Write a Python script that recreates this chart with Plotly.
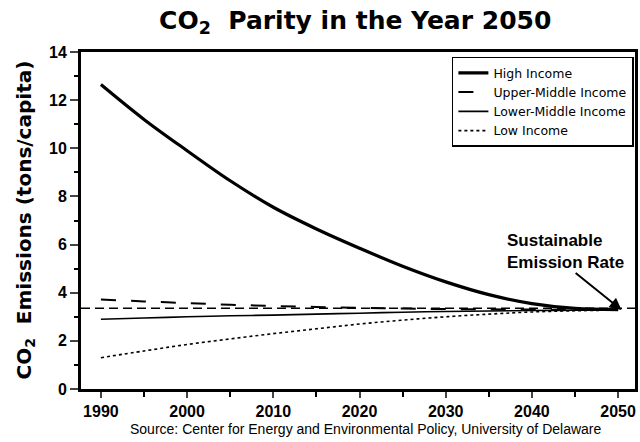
import plotly.graph_objects as go

years = [1990, 1995, 2000, 2005, 2010, 2015, 2020, 2025, 2030, 2035, 2040, 2045, 2050]
high_income = [12.65, 11.2, 9.9, 8.65, 7.55, 6.65, 5.85, 5.1, 4.45, 3.92, 3.55, 3.35, 3.3]
upper_middle = [3.72, 3.64, 3.57, 3.5, 3.45, 3.41, 3.37, 3.34, 3.32, 3.31, 3.3, 3.29, 3.28]
lower_middle = [2.9, 2.95, 3.0, 3.04, 3.07, 3.11, 3.15, 3.19, 3.22, 3.24, 3.26, 3.27, 3.28]
low_income = [1.3, 1.58, 1.85, 2.08, 2.3, 2.5, 2.7, 2.86, 3.0, 3.11, 3.2, 3.25, 3.28]
sustainable_rate = 3.35

series_names = ["High Income", "Upper-Middle Income", "Lower-Middle Income", "Low Income"]
x_ticks = [1990, 2000, 2010, 2020, 2030, 2040, 2050]
y_ticks = [0, 2, 4, 6, 8, 10, 12, 14]

FONT = "Liberation Sans, Arial, sans-serif"
WIDE = "DejaVu Sans, sans-serif"

fig = go.Figure()
fig.add_trace(go.Scatter(x=years, y=high_income, mode="lines", name=series_names[0],
                         line=dict(color="black", width=3.2, shape="spline")))
fig.add_trace(go.Scatter(x=years, y=upper_middle, mode="lines", name=series_names[1],
                         line=dict(color="black", width=2, dash="longdash", shape="spline")))
fig.add_trace(go.Scatter(x=years, y=lower_middle, mode="lines", name=series_names[2],
                         line=dict(color="black", width=1.6, shape="spline")))
fig.add_trace(go.Scatter(x=years, y=low_income, mode="lines", name=series_names[3],
                         line=dict(color="black", width=1.6, dash="dot", shape="spline")))

fig.add_shape(type="line", xref="paper", x0=0, x1=1, yref="y", y0=sustainable_rate, y1=sustainable_rate,
              line=dict(color="black", width=1.5, dash="9px,5px"), layer="below")

fig.add_annotation(x=2036.84, y=5.73, xref="x", yref="y", xanchor="left",
                   text="<b>Sustainable<br>Emission Rate</b>", showarrow=False,
                   font=dict(family=FONT, size=17, color="black"), align="left")
fig.add_annotation(x=2050.4, y=3.28, ax=2044.9, ay=4.87, axref="x", ayref="y", xref="x", yref="y",
                   text="", showarrow=True, arrowhead=2, arrowsize=1.2, arrowwidth=2, arrowcolor="black")
fig.add_annotation(x=0.514, y=0, xref="paper", yref="paper", yshift=-40, yanchor="middle",
                   text="Source: Center for Energy and Environmental Policy, University of Delaware",
                   showarrow=False, font=dict(family=FONT, size=14, color="black"))
fig.add_annotation(x=0, y=0.5, xref="paper", yref="paper", xshift=-57, textangle=-90,
                   text="<b>CO<sub>2</sub>  Emissions (tons/capita)</b>", showarrow=False,
                   xanchor="center", yanchor="middle",
                   font=dict(family=WIDE, size=20, color="black"))

fig.update_layout(
    width=640, height=442,
    margin=dict(l=81, r=2, t=52, b=53),
    paper_bgcolor="white", plot_bgcolor="white",
    font=dict(family=FONT, color="black"),
    title=dict(text="<b>CO<sub>2</sub>  Parity in the Year 2050</b>", x=0.555, xref="container",
               y=0.955, yanchor="middle", xanchor="center",
               font=dict(family=WIDE, size=25, color="black")),
    showlegend=True,
    legend=dict(x=0.998, y=0.986, xanchor="right", yanchor="top", bgcolor="white",
                bordercolor="black", borderwidth=1.5,
                font=dict(family=WIDE, size=12.5, color="black"), tracegroupgap=0),
)
fig.update_xaxes(range=[1987.69, 2051.96], tickvals=x_ticks, ticks="outside", ticklen=6, tickwidth=2,
                 showgrid=False, zeroline=False, showline=True, linewidth=2.5, linecolor="black", mirror=True,
                 tickfont=dict(family=FONT, size=16, weight="bold", color="black"),
                 minor=dict(ticks="outside", dtick=5, tick0=1990, ticklen=5, tickwidth=1.5, tickcolor="black", showgrid=False))
fig.update_yaxes(range=[0, 14], tickvals=y_ticks, ticks="outside", ticklen=8, tickwidth=2,
                 showgrid=False, zeroline=False, showline=True, linewidth=3, linecolor="black", mirror=True,
                 tickfont=dict(family=FONT, size=16, weight="bold", color="black"),
                 minor=dict(ticks="outside", dtick=1, ticklen=4, tickwidth=1.5, tickcolor="black", showgrid=False))

fig.write_html("out.html", config={"displayModeBar": False},
               post_script="document.body.style.margin='0';")
